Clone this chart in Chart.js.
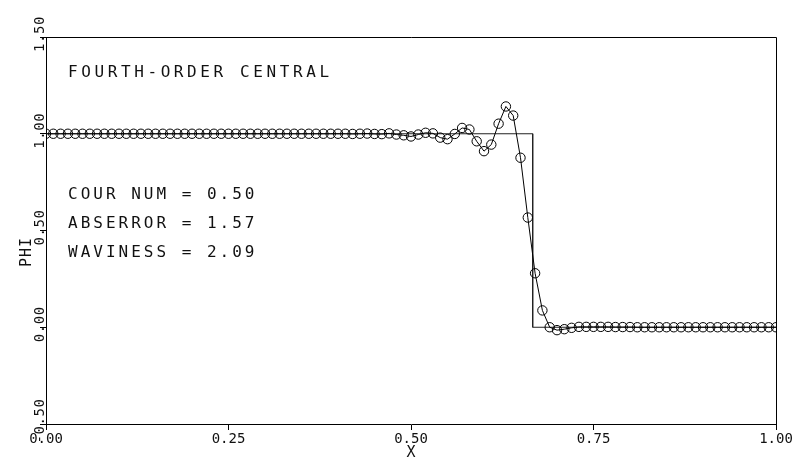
<!DOCTYPE html>
<html><head><meta charset="utf-8">
<script src="https://cdn.jsdelivr.net/npm/chart.js@4/dist/chart.umd.min.js"></script>
<style>html,body{margin:0;padding:0;background:#fff;}canvas{display:block;}</style>
</head><body>
<canvas id="c" width="807" height="462"></canvas>
<script>
// ---- data ----
const xGrid = [
 0.00,0.01,0.02,0.03,0.04,0.05,0.06,0.07,0.08,0.09,
 0.10,0.11,0.12,0.13,0.14,0.15,0.16,0.17,0.18,0.19,
 0.20,0.21,0.22,0.23,0.24,0.25,0.26,0.27,0.28,0.29,
 0.30,0.31,0.32,0.33,0.34,0.35,0.36,0.37,0.38,0.39,
 0.40,0.41,0.42,0.43,0.44,0.45,0.46,0.47,0.48,0.49,
 0.50,0.51,0.52,0.53,0.54,0.55,0.56,0.57,0.58,0.59,
 0.60,0.61,0.62,0.63,0.64,0.65,0.66,0.67,0.68,0.69,
 0.70,0.71,0.72,0.73,0.74,0.75,0.76,0.77,0.78,0.79,
 0.80,0.81,0.82,0.83,0.84,0.85,0.86,0.87,0.88,0.89,
 0.90,0.91,0.92,0.93,0.94,0.95,0.96,0.97,0.98,0.99,
 1.00];
const phiNumerical = [
 1.000,1.000,1.000,1.000,1.000,1.000,1.000,1.000,1.000,1.000,
 1.000,1.000,1.000,1.000,1.000,1.000,1.000,1.000,1.000,1.000,
 1.000,1.000,1.000,1.000,1.000,1.000,1.000,1.000,1.000,1.000,
 1.000,1.000,1.000,1.000,1.000,1.000,1.000,1.000,1.000,1.000,
 1.000,1.000,0.999,1.000,1.001,0.999,0.998,1.002,0.996,0.992,
 0.986,0.996,1.005,1.002,0.980,0.972,0.999,1.030,1.022,0.961,
 0.910,0.944,1.052,1.141,1.094,0.876,0.567,0.279,0.087,0.000,
 -0.015,-0.010,-0.003,0.002,0.002,0.002,0.002,0.002,0.001,0.001,
 0.001,0.000,0.000,0.000,0.000,0.000,0.000,0.000,0.000,0.000,
 0.000,0.000,0.000,0.000,0.000,0.000,0.000,0.000,0.000,0.000,
 0.000];
const exactX = [0, 0.6667, 0.6667, 1];
const exactY = [1, 1, 0, 0];
const xTicks = [0, 0.25, 0.5, 0.75, 1];
const yTicks = [-0.5, 0, 0.5, 1, 1.5];
const titleText = 'FOURTH-ORDER CENTRAL';
const statLines = ['COUR NUM = 0.50', 'ABSERROR = 1.57', 'WAVINESS = 2.09'];
const xTitle = 'X';
const yTitle = 'PHI';

const FONT = '"DejaVu Sans Mono", monospace';

const textPlugin = {
  id: 'textPlugin',
  afterDraw(chart) {
    const ctx = chart.ctx;
    const a = chart.chartArea;
    ctx.save();
    // plot box (top and right edges)
    ctx.strokeStyle = '#000';
    ctx.lineWidth = 1;
    ctx.beginPath();
    ctx.moveTo(a.left, a.top + 0.5);
    ctx.lineTo(a.right + 0.5, a.top + 0.5);
    ctx.lineTo(a.right + 0.5, a.bottom);
    ctx.stroke();

    ctx.fillStyle = '#111';
    ctx.textAlign = 'left';
    ctx.textBaseline = 'alphabetic';
    ctx.font = '16px ' + FONT;
    ctx.letterSpacing = '3.6px';
    ctx.fillText(titleText, 68, 77);
    ctx.letterSpacing = '3.0px';
    const bases = [199, 228, 257];
    statLines.forEach((t, i) => ctx.fillText(t, 68, bases[i]));

    // rotated y tick labels
    const ys = chart.scales.y;
    ctx.font = '14px ' + FONT;
    ctx.letterSpacing = '0.6px';
    ctx.textAlign = 'center';
    ctx.textBaseline = 'middle';
    ys.ticks.forEach(t => {
      const py = ys.getPixelForValue(t.value);
      ctx.save();
      ctx.translate(40, py - 3);
      ctx.rotate(-Math.PI / 2);
      ctx.fillText(t.value.toFixed(2), 0, 0);
      ctx.restore();
    });
    // y title
    ctx.font = '15px ' + FONT;
    ctx.letterSpacing = '1px';
    ctx.save();
    ctx.translate(27, 252);
    ctx.rotate(-Math.PI / 2);
    ctx.fillText(yTitle, 0, 0);
    ctx.restore();
    ctx.restore();
  }
};

new Chart(document.getElementById('c'), {
  type: 'line',
  data: {
    datasets: [
      {
        label: 'numerical',
        data: xGrid.map((x, i) => ({x: x, y: phiNumerical[i]})),
        borderColor: '#000',
        borderWidth: 1,
        pointRadius: 4.7,
        pointBorderWidth: 1,
        pointBorderColor: '#000',
        pointBackgroundColor: 'rgba(0,0,0,0)',
        pointStyle: 'circle',
        tension: 0,
        fill: false,
        order: 0
      },
      {
        label: 'exact',
        data: exactX.map((x, i) => ({x: x, y: exactY[i]})),
        borderColor: '#222',
        borderWidth: 1,
        pointRadius: 0,
        tension: 0,
        fill: false,
        order: 1
      }
    ]
  },
  options: {
    responsive: false,
    animation: false,
    devicePixelRatio: 1,
    layout: { padding: { left: 0, top: 37, right: 31, bottom: 0 } },
    plugins: { legend: { display: false }, tooltip: { enabled: false }, title: { display: false } },
    scales: {
      x: {
        type: 'linear', min: 0, max: 1,
        afterBuildTicks: s => { s.ticks = xTicks.map(v => ({value: v})); },
        afterFit: s => { s.height = 38; },
        ticks: {
          callback: v => Number(v).toFixed(2),
          font: { family: FONT, size: 14 },
          color: '#111', padding: 1, maxRotation: 0, autoSkip: false
        },
        grid: { drawOnChartArea: false, drawTicks: true, tickLength: 6, tickColor: '#000' },
        border: { color: '#000', width: 1 },
        title: { display: true, text: xTitle, color: '#111', font: { family: FONT, size: 15 }, padding: { top: 0, bottom: 0 } }
      },
      y: {
        type: 'linear', min: -0.5, max: 1.5,
        afterBuildTicks: s => { s.ticks = yTicks.map(v => ({value: v})); },
        afterFit: s => { s.width = 46; },
        ticks: { display: false },
        grid: { drawOnChartArea: false, drawTicks: true, tickLength: 6, tickColor: '#000' },
        border: { color: '#000', width: 1 }
      }
    }
  },
  plugins: [textPlugin]
});
</script>
</body></html>
